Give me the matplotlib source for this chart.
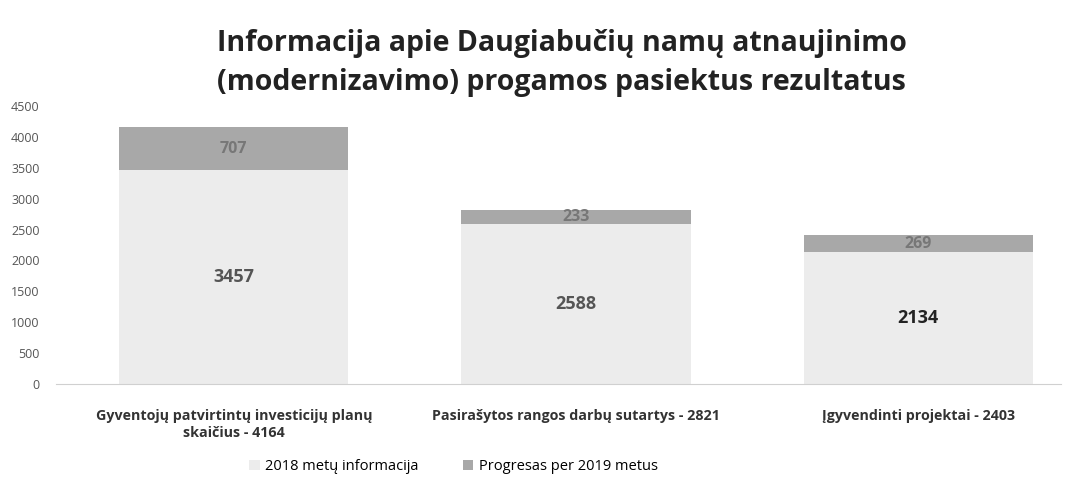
import matplotlib
matplotlib.use("Agg")
import matplotlib.pyplot as plt
import numpy as np

categories = ["Gyventojų patvirtintų investicijų planų\nskaičius - 4164",
              "Pasirašytos rangos darbų sutartys - 2821",
              "Įgyvendinti projektai - 2403"]
base_2018 = [3457, 2588, 2134]
progress_2019 = [707, 233, 269]
series_names = ["2018 metų informacija", "Progresas per 2019 metus"]
yticks = [0, 500, 1000, 1500, 2000, 2500, 3000, 3500, 4000, 4500]

plt.rcParams['font.family'] = ['Open Sans', 'DejaVu Sans']

fig = plt.figure(figsize=(10.8, 4.86), dpi=100)
ax = fig.add_axes([0.052, 0.21, 0.93, 0.572])

x = np.arange(len(categories))
w = 0.67
b1 = ax.bar(x, base_2018, w, color="#ececec", label=series_names[0], zorder=2)
b2 = ax.bar(x, progress_2019, w, bottom=base_2018, color="#a8a8a8", label=series_names[1], zorder=2)

for i in range(len(categories)):
    ax.text(x[i], base_2018[i] / 2, str(base_2018[i]), ha="center", va="center",
            fontsize=13, fontweight="bold", color="#555555" if i < 2 else "#222222")
    ax.text(x[i], base_2018[i] + progress_2019[i] / 2, str(progress_2019[i]), ha="center", va="center",
            fontsize=11.5, fontweight="bold", color="#777777")

ax.set_ylim(0, 4500)
ax.set_xlim(-0.519, 2.416)
ax.set_yticks(yticks)
ax.set_yticklabels([str(t) for t in yticks], fontsize=9, color="#555555")
ax.set_xticks(x)
ax.set_xticklabels(categories, fontsize=10.3, fontweight="bold", color="#333333", linespacing=1.3)
ax.tick_params(length=0)
ax.tick_params(axis="x", pad=18)
ax.tick_params(axis="y", pad=12)
for s in ["top", "right", "left"]:
    ax.spines[s].set_visible(False)
ax.spines["bottom"].set_color("#d0d0d0")

fig.suptitle("Informacija apie Daugiabučių namų atnaujinimo\n(modernizavimo) progamos pasiektus rezultatus",
             x=0.52, y=0.94, fontsize=20.5, fontweight="bold", color="#222222", linespacing=1.45)

fig.legend(handles=[b1, b2], labels=series_names, loc="center", bbox_to_anchor=(0.42, 0.04),
           ncol=2, frameon=False, fontsize=10.5, handlelength=0.7, handleheight=0.7,
           columnspacing=3.0, handletextpad=0.4)

fig.savefig("out.png", dpi=100)
